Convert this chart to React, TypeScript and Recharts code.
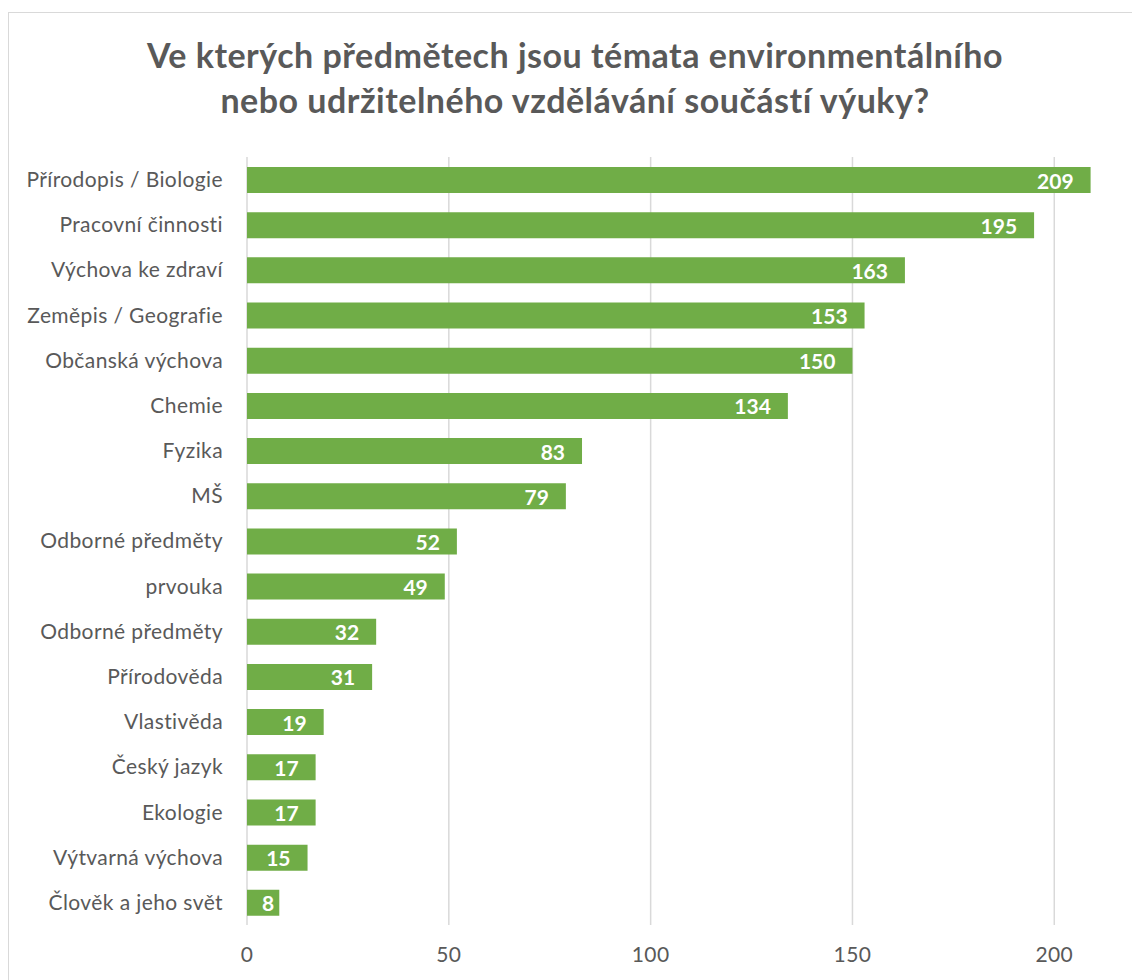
import React from 'react'
import { BarChart, Bar, XAxis, YAxis, CartesianGrid, LabelList } from 'recharts'

const subjects = [
  'Přírodopis / Biologie',
  'Pracovní činnosti',
  'Výchova ke zdraví',
  'Zeměpis / Geografie',
  'Občanská výchova',
  'Chemie',
  'Fyzika',
  'MŠ',
  'Odborné předměty',
  'prvouka',
  'Odborné předměty',
  'Přírodověda',
  'Vlastivěda',
  'Český jazyk',
  'Ekologie',
  'Výtvarná výchova',
  'Člověk a jeho svět',
]
const counts = [209, 195, 163, 153, 150, 134, 83, 79, 52, 49, 32, 31, 19, 17, 17, 15, 8]
const xTicks = [0, 50, 100, 150, 200]
const titleLines = [
  'Ve kterých předmětech jsou témata environmentálního',
  'nebo udržitelného vzdělávání součástí výuky?',
]

const data = subjects.map((name, i) => ({ id: i, name, value: counts[i] }))

const font = 'Lato, "Open Sans", sans-serif'
const textGray = '#595959'
const gridGray = '#d9d9d9'
const green = '#70ad47'

const ValueLabel = (props: any) => {
  const { x, y, width, height, value } = props
  const narrow = width < 40
  return (
    <text
      x={narrow ? x + width / 2 + 5 : x + width - 17}
      y={y + height / 2}
      textAnchor={narrow ? 'middle' : 'end'}
      dominantBaseline="central"
      fill="#fff"
      fontFamily={font}
      fontWeight={700}
      fontSize={21}
    >
      {value}
    </text>
  )
}

const tickStyle = { fontSize: 21, fill: textGray, fontFamily: font, letterSpacing: 0.4 }

export default function App() {
  return (
    <div style={{ position: 'fixed', left: 0, top: 0, width: 1132, height: 980, overflow: 'hidden', background: '#fff' }}>
      <div
        style={{
          position: 'absolute', left: 8, top: 12, width: 1134, height: 1000,
          border: `1.5px solid ${gridGray}`, boxSizing: 'border-box',
        }}
      />
      <svg width={1132} height={140} style={{ position: 'absolute', left: 0, top: 0 }}>
        {titleLines.map((t, i) => (
          <text
            key={i}
            x={575}
            y={68 + i * 45}
            textAnchor="middle"
            fontFamily={font}
            fontWeight={700}
            fontSize={34}
            letterSpacing={0.5}
            fill={textGray}
          >
            {t}
          </text>
        ))}
      </svg>
      <div style={{ position: 'absolute', left: 0, top: 0 }}>
        <BarChart
          width={1160}
          height={980}
          data={data}
          layout="vertical"
          margin={{ top: 157, right: 25, bottom: 0, left: 0 }}
          barSize={26}
        >
          <CartesianGrid horizontal={false} stroke={gridGray} strokeWidth={1.5} />
          <XAxis
            type="number"
            domain={[0, 220]}
            ticks={xTicks}
            height={55}
            axisLine={false}
            tickLine={false}
            tickSize={0}
            tickMargin={22}
            tick={tickStyle}
          />
          <YAxis
            type="category"
            dataKey="id"
            width={247}
            axisLine={false}
            tickLine={false}
            tickSize={0}
            tickMargin={24}
            interval={0}
            tickFormatter={(i: number) => subjects[i]}
            tick={tickStyle}
          />
          <Bar dataKey="value" fill={green} isAnimationActive={false}>
            <LabelList dataKey="value" content={ValueLabel} />
          </Bar>
        </BarChart>
      </div>
    </div>
  )
}
